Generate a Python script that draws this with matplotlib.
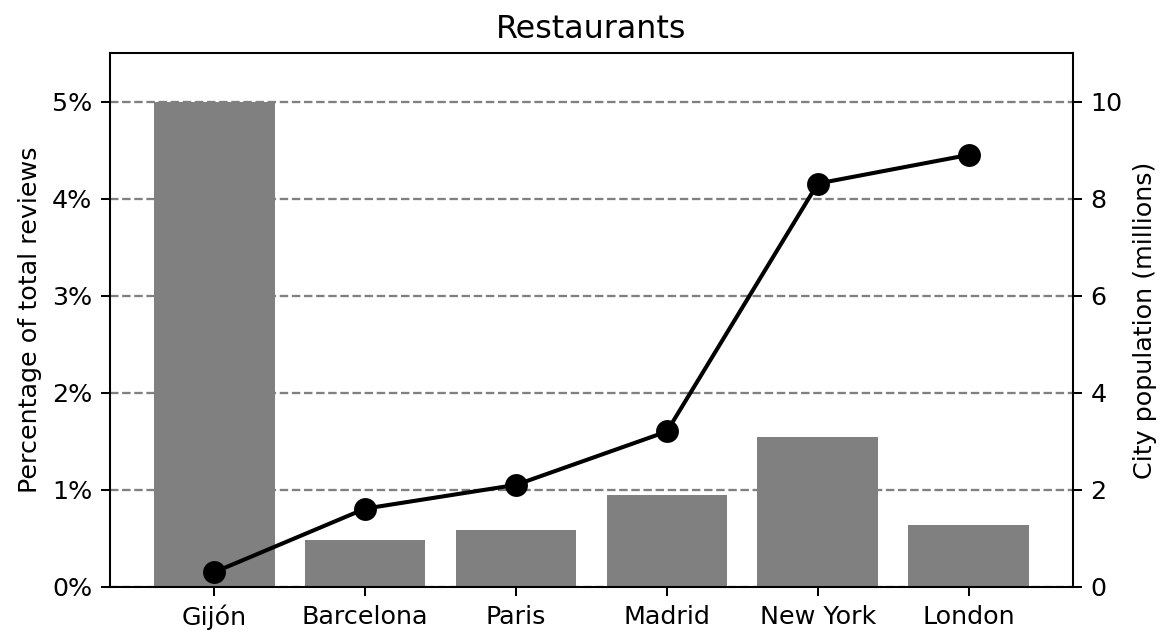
import matplotlib
matplotlib.use("Agg")
import matplotlib.pyplot as plt
from matplotlib.ticker import PercentFormatter

# data
cities = ["Gijón", "Barcelona", "Paris", "Madrid", "New York", "London"]
review_share = [5.0, 0.485, 0.59, 0.95, 1.54, 0.64]   # % of total reviews
population = [0.3, 1.61, 2.1, 3.2, 8.31, 8.9]       # millions

plt.rcParams['font.family'] = 'DejaVu Sans'
plt.rcParams['font.size'] = 10

fig, ax = plt.subplots(figsize=(6.4, 3.46), dpi=183)
fig.subplots_adjust(left=0.094, right=0.916, top=0.916, bottom=0.073)

x = range(len(cities))
ax.bar(x, review_share, width=0.8, color="grey", zorder=2)
ax.set_xticks(list(x))
ax.set_xticklabels(cities)
ax.set_ylim(0, 5.5)
ax.set_yticks([0, 1, 2, 3, 4, 5])
ax.yaxis.set_major_formatter(PercentFormatter(decimals=0))
ax.set_ylabel("Percentage of total reviews")
ax.grid(axis="y", linestyle="--", color="grey", linewidth=0.9, zorder=0)
ax.set_axisbelow(True)
ax.set_title("Restaurants", fontsize=12.5)

ax2 = ax.twinx()
ax2.plot(x, population, color="black", marker="o", linewidth=1.6, markersize=8)
ax2.set_ylim(0, 11)
ax2.set_yticks([0, 2, 4, 6, 8, 10])
ax2.set_ylabel("City population (millions)")

fig.savefig("out.png", dpi=183)
